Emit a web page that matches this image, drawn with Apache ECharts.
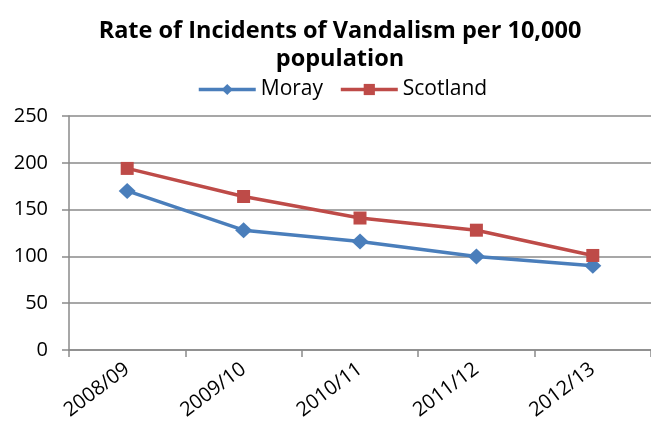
<!DOCTYPE html>
<html>
<head>
<meta charset="utf-8">
<script src="https://cdn.jsdelivr.net/npm/echarts@6/dist/echarts.min.js"></script>
<style>
  html, body { margin: 0; padding: 0; background: #fff; }
  #chart { width: 651px; height: 423px; }
</style>
</head>
<body>
<div id="chart"></div>
<script>
// Financial years on the category axis
const years = ['2008/09', '2009/10', '2010/11', '2011/12', '2012/13'];
// Incidents of vandalism per 10,000 population
const moray = [170, 128, 116, 100, 90];
const scotland = [194, 164, 141, 128, 101];
const yTicks = { min: 0, max: 250, interval: 50 };

const FONT = 'Open Sans';
const GRID_GREY = '#8a8a8a';

const chart = echarts.init(document.getElementById('chart'));
chart.setOption({
  animation: false,
  title: {
    text: 'Rate of Incidents of Vandalism per 10,000\npopulation',
    left: 335,
    textAlign: 'center',
    top: 12,
    textStyle: {
      fontFamily: FONT,
      fontWeight: 'bold',
      fontSize: 23.5,
      lineHeight: 28,
      color: '#000'
    }
  },
  legend: {
    left: 197,
    top: 79,
    padding: 0,
    itemWidth: 57,
    itemHeight: 14,
    itemGap: 16,
    lineStyle: { width: 3.5 },
    textStyle: { fontFamily: FONT, fontSize: 21, color: '#000' },
    data: ['Moray', 'Scotland']
  },
  grid: { left: 69, right: 0, top: 116, bottom: 73 },
  xAxis: {
    type: 'category',
    data: years,
    boundaryGap: true,
    axisLine: { lineStyle: { color: GRID_GREY, width: 1.5 } },
    axisTick: { show: true, length: 7, lineStyle: { color: GRID_GREY, width: 1.5 } },
    axisLabel: {
      rotate: 37,
      margin: 17,
      fontFamily: FONT,
      fontSize: 20,
      color: '#000'
    },
    splitLine: { show: false }
  },
  yAxis: {
    type: 'value',
    min: yTicks.min,
    max: yTicks.max,
    interval: yTicks.interval,
    axisLine: { show: true, lineStyle: { color: GRID_GREY, width: 1.5 } },
    axisTick: { show: true, length: 7, lineStyle: { color: GRID_GREY, width: 1.5 } },
    axisLabel: { margin: 21, fontFamily: FONT, fontSize: 20, color: '#000' },
    splitLine: { lineStyle: { color: GRID_GREY, width: 1.5 } }
  },
  series: [
    {
      name: 'Moray',
      type: 'line',
      data: moray,
      symbol: 'diamond',
      symbolSize: [17, 16],
      lineStyle: { color: '#4a7ebb', width: 3.5 },
      itemStyle: { color: '#4a7ebb' }
    },
    {
      name: 'Scotland',
      type: 'line',
      data: scotland,
      symbol: 'rect',
      symbolSize: 13,
      lineStyle: { color: '#be4b48', width: 3.5 },
      itemStyle: { color: '#be4b48' }
    }
  ]
});
</script>
</body>
</html>
